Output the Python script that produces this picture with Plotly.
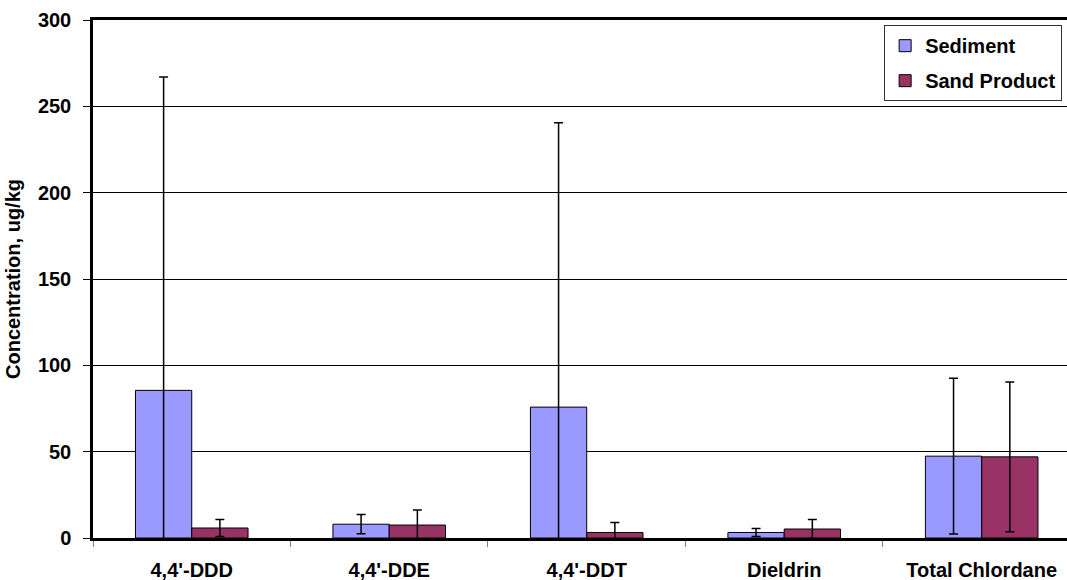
import plotly.graph_objects as go

# Mean concentrations with symmetric error (ug/kg)
categories = ["4,4'-DDD", "4,4'-DDE", "4,4'-DDT", "Dieldrin", "Total Chlordane"]
sediment = [85.5, 8.0, 75.8, 3.2, 47.4]
sediment_err = [181.5, 5.6, 164.7, 2.3, 45.1]
sand_product = [5.8, 7.5, 3.2, 5.2, 47.0]
sand_product_err = [4.9, 8.7, 5.8, 5.5, 43.4]
y_ticks = [0, 50, 100, 150, 200, 250, 300]

FONT = "Liberation Sans, Arial, sans-serif"
SIZE = 20

fig = go.Figure()
fig.add_trace(go.Bar(
    name="Sediment", x=categories, y=sediment, legendgroup="sed",
    marker=dict(color="#9999FF", line=dict(color="#000000", width=1)),
    error_y=dict(type="data", array=sediment_err, symmetric=True,
                 color="#000000", thickness=1.5, width=4.5),
))
fig.add_trace(go.Bar(
    name="Sand Product", x=categories, y=sand_product, legendgroup="sand",
    marker=dict(color="#993366", line=dict(color="#000000", width=1)),
    error_y=dict(type="data", array=sand_product_err, symmetric=True,
                 color="#000000", thickness=1.5, width=4.5),
))

fig.update_layout(
    width=1067, height=580,
    margin=dict(l=93, r=0, t=20, b=42),
    paper_bgcolor="white", plot_bgcolor="white",
    barmode="group", bargap=0.43, bargroupgap=0,
    font=dict(family=FONT, size=SIZE, color="black"),
    showlegend=True,
    legend=dict(
        x=0.995, xanchor="right", y=0.99, yanchor="top",
        bgcolor="white", bordercolor="#333333", borderwidth=1,
        font=dict(family=FONT, size=SIZE, color="black", weight="bold"),
        itemwidth=30, traceorder="grouped", tracegroupgap=6,
    ),
)

fig.update_xaxes(
    type="category", range=[-0.5, 4.432],
    showline=True, linecolor="black", linewidth=2.5, mirror=True,
    ticks="outside", tickson="boundaries", ticklen=6, tickcolor="#808080",
    tickwidth=1, ticklabelstandoff=12,
    tickfont=dict(family=FONT, size=SIZE, weight="bold"),
    showgrid=False,
)
fig.update_yaxes(
    range=[0, 300], tickvals=y_ticks,
    showline=True, linecolor="black", linewidth=2.5,
    ticks="outside", ticklen=7, tickcolor="black", tickwidth=1,
    ticklabelstandoff=8,
    tickfont=dict(family=FONT, size=SIZE, weight="bold"),
    showgrid=True, gridcolor="#000000", gridwidth=1,
    zeroline=False,
    title=dict(text="Concentration, ug/kg", standoff=12,
               font=dict(family=FONT, size=SIZE, weight="bold")),
)

fig.write_html("out.html")
